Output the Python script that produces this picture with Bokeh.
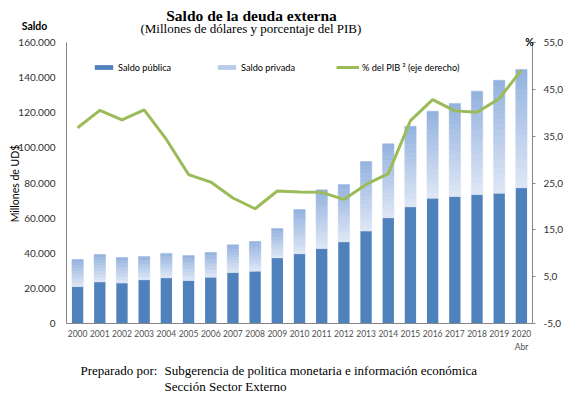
import math
from bokeh.plotting import figure
from bokeh.models import (Range1d, LinearAxis, FixedTicker, Label, Legend,
                          LegendItem, ColumnDataSource)
from bokeh.embed import file_html
from bokeh.resources import INLINE

# ---------------- data ----------------
years = list(range(2000, 2021))
year_labels = [str(y) for y in years]
saldo_publica = [21000, 23700, 23000, 24900, 26000, 24500, 26400, 29000, 29800, 37400,
                 39700, 42700, 46500, 52600, 60200, 66400, 71300, 72300, 73400, 74200, 77300]
saldo_total = [36400, 39300, 37600, 38200, 39900, 38700, 40400, 44800, 46700, 54100,
               64900, 76100, 79200, 92200, 102300, 112300, 120900, 125300, 132300, 138500, 144600]
saldo_privada = [t - p for t, p in zip(saldo_total, saldo_publica)]
pct_pib = [36.8, 40.5, 38.5, 40.6, 34.3, 26.8, 25.2, 21.8, 19.5, 23.3,
           23.1, 23.0, 21.5, 24.7, 27.0, 38.3, 42.8, 40.4, 40.1, 43.0, 49.1]
left_ticks = [0, 20000, 40000, 60000, 80000, 100000, 120000, 140000, 160000]
left_tick_labels = ["0", "20.000", "40.000", "60.000", "80.000", "100.000",
                    "120.000", "140.000", "160.000"]
right_ticks = [-5, 5, 15, 25, 35, 45, 55]
right_tick_labels = ["-5,0", "5,0", "15,0", "25,0", "35,0", "45,0", "55,0"]

# ---------------- layout / styling ----------------
W, H = 574, 396
CL, CR, CT, CB = 66, 532, 42, 323          # chart area inside the canvas (px)
X0, X1 = 1999.5, 2020.5
Y0, Y1 = 0, 160000
P0, P1 = -5, 55
kx = (CR - CL) / (X1 - X0)
ky = (CB - CT) / (Y1 - Y0)
kp = (CB - CT) / (P1 - P0)

C_PUB = "#4F81BD"
C_LINE = "#9BBB59"
GRAD_TOP = (0x93, 0xB1, 0xDE)
GRAD_BOT = (0xDF, 0xE8, 0xF6)
FONT = "Lato"
SERIF = "Liberation Serif"
AXIS_C = "#868686"
TXT_C = "#303030"
XTXT_C = "#505050"

def dx(ox):  # canvas px -> data x
    return X0 + (ox - CL) / kx

def dy(oy):  # canvas px -> data y (left axis)
    return Y0 + (CB - oy) / ky

p = figure(width=W, height=H,
           x_range=Range1d(dx(0), dx(W)), y_range=Range1d(dy(H), dy(0)),
           output_backend="svg", toolbar_location=None,
           min_border=0, min_border_left=0, min_border_right=0,
           min_border_top=0, min_border_bottom=0)
p.outline_line_color = None
p.border_fill_color = "white"
p.xgrid.visible = False
p.ygrid.visible = False
p.extra_y_ranges = {"pct": Range1d(P0 - (H - CB) / kp, P1 + CT / kp)}

# public bars
r_pub = p.vbar(x=years, bottom=0, top=saldo_publica, width=0.51, fill_color=C_PUB, line_color=None)

# private bars with vertical gradient (light at bottom, darker at top)
N = 18
xs, bots, tops, cols = [], [], [], []
for y, pb, pv in zip(years, saldo_publica, saldo_privada):
    for i in range(N):
        t = (i + 0.5) / N
        c = tuple(int(round(GRAD_BOT[k] + (GRAD_TOP[k] - GRAD_BOT[k]) * t)) for k in range(3))
        xs.append(y)
        bots.append(pb + pv * i / N)
        tops.append(pb + pv * (i + 1) / N)
        cols.append("#%02x%02x%02x" % c)
src = ColumnDataSource(dict(x=xs, bottom=bots, top=tops, color=cols))
p.vbar(x="x", bottom="bottom", top="top", width=0.51, fill_color="color", line_color="color",
       line_width=0.5, source=src)
r_priv = p.vbar(x=[years[0]], bottom=[0], top=[0], width=0.51, fill_color="#B8CCEA", line_color=None)

r_line = p.line(years, pct_pib, y_range_name="pct", line_color=C_LINE, line_width=3)

# axes (placed at fixed data locations)
xa = p.xaxis[0]
ya = p.yaxis[0]
xa.fixed_location = Y0
xa.bounds = (X0, X1)
ya.fixed_location = X0
ya.bounds = (Y0, Y1)
xa.ticker = FixedTicker(ticks=years)
xa.major_label_overrides = {y: l for y, l in zip(years, year_labels)}
ya.ticker = FixedTicker(ticks=left_ticks)
ya.major_label_overrides = {t: l for t, l in zip(left_ticks, left_tick_labels)}
for ax in (xa, ya):
    ax.axis_line_color = AXIS_C
    ax.major_tick_line_color = None
    ax.minor_tick_line_color = None
    ax.major_tick_out = 0
    ax.major_tick_in = 0
    ax.major_label_text_font = FONT
    ax.major_label_text_color = TXT_C
xa.major_label_text_font_size = "8.5px"
xa.major_label_text_color = XTXT_C
xa.major_label_standoff = 6
ya.major_label_text_font_size = "10px"
ya.major_label_standoff = 11

rax = LinearAxis(y_range_name="pct", ticker=FixedTicker(ticks=right_ticks),
                 fixed_location=X1, bounds=(P0, P1))
rax.major_label_overrides = {t: l for t, l in zip(right_ticks, right_tick_labels)}
rax.axis_line_color = AXIS_C
rax.major_tick_line_color = AXIS_C
rax.major_tick_out = 3
rax.major_tick_in = 0
rax.minor_tick_line_color = None
rax.major_label_text_font = FONT
rax.major_label_text_font_size = "10px"
rax.major_label_text_color = TXT_C
rax.major_label_standoff = 8
p.add_layout(rax, "right")

# legends (one per item, placed like the original)
def add_legend(label, rend, fx, glyph_h):
    lg = Legend(items=[LegendItem(label=label, renderers=[rend])], location=(fx, H - 73),
                orientation="horizontal", padding=0, margin=0, spacing=0,
                glyph_width=23, glyph_height=glyph_h, label_height=12, label_standoff=3,
                border_line_color=None, background_fill_alpha=0,
                label_text_font=FONT, label_text_font_size="9.2px", label_text_color="#000000")
    p.add_layout(lg, "center")

add_legend("Saldo pública", r_pub, 92, 6)
add_legend("Saldo privada", r_priv, 215, 6)
add_legend("% del PIB \u00b2 (eje derecho)", r_line, 336, 12)

# texts
def lab(ox, oy, text, size, font=FONT, style="normal", align="left", color="#000000", angle=0.0):
    p.add_layout(Label(x=dx(ox), y=dy(oy), text=text, text_font=font, text_font_size=size,
                       text_font_style=style, text_align=align, text_baseline="middle",
                       text_color=color, angle=angle))

lab(251, 15, "Saldo de la deuda externa", "15.5px", SERIF, "bold", "center")
lab(252, 28, "(Millones  de dólares y porcentaje del PIB)", "13px", SERIF, "normal", "center")
lab(34, 25, "Saldo", "10.5px", FONT, "bold", "center")
lab(14, 183, "Millones de UD$", "10.5px", FONT, "normal", "center", angle=math.pi / 2)
lab(529, 41, "%", "10.5px", FONT, "bold", "center")
lab(521, 346, "Abr", "8.5px", FONT, "normal", "center", XTXT_C)
lab(80, 370, "Preparado por:", "13px", SERIF)
lab(164, 370, "Subgerencia de politica monetaria e información económica", "13px", SERIF)
lab(164, 386, "Sección Sector Externo", "13px", SERIF)

open("out.html", "w").write(file_html(p, INLINE))
